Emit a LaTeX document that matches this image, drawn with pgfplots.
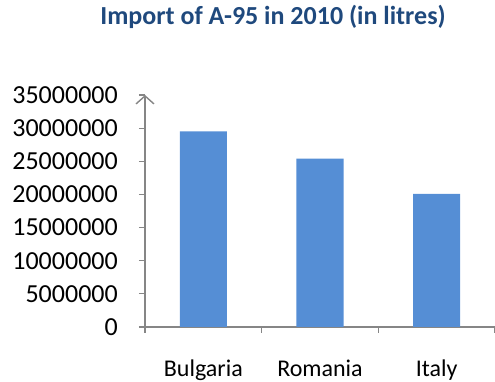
\documentclass[border=0pt]{standalone}
\usepackage{fontspec}
\setmainfont{Carlito}
\usepackage{pgfplots}
\pgfplotsset{compat=1.18}
\usetikzlibrary{arrows.meta}
\definecolor{barblue}{HTML}{558ED5}
\definecolor{axgray}{HTML}{868686}
\definecolor{titleblue}{HTML}{1F497D}
\begin{document}
\begin{tikzpicture}[x=1pt,y=1pt]
\useasboundingbox (-145,-55) rectangle (350,327);
\begin{axis}[
  at={(0pt,0pt)}, anchor=south west,
  width=350pt, height=232pt, scale only axis,
  xmin=-0.5, xmax=2.5, ymin=0, ymax=35000000,
  axis lines=left,
  axis line style={-, axgray, line width=1.5pt},
  y axis line style={-{Straight Barb[length=8pt,width=18pt,line width=1.4pt]}},
  ytick={0,5000000,...,35000000},
  scaled y ticks=false,
  xtick={0,1,2}, xticklabels={Bulgaria,Romania,Italy},
  minor xtick={-0.5,0.5,1.5,2.5},
  tick align=outside, major tick length=6pt, minor tick length=6pt,
  tick style={axgray, line width=1.2pt},
  major x tick style={draw=none},
  xticklabel style={font=\fontsize{24}{28}\selectfont},
  yticklabel style={font=\fontsize{26}{30}\selectfont,
    /pgf/number format/fixed, /pgf/number format/precision=0,
    /pgf/number format/1000 sep={}, /pgf/number format/assume math mode=true,
    inner sep=0pt, anchor=east, xshift=-21pt},
  xticklabel style={inner sep=0pt, anchor=base, yshift=-44pt},
]
\addplot[ybar, bar width=47pt, fill=barblue, draw=none] coordinates {(0,29500000) (1,25400000) (2,20100000)};
\end{axis}
\node[anchor=base, font=\fontsize{26}{30}\selectfont\bfseries, text=titleblue, inner sep=0pt] at (128,302) {Import of A-95 in 2010 (in litres)};
\end{tikzpicture}
\end{document}
